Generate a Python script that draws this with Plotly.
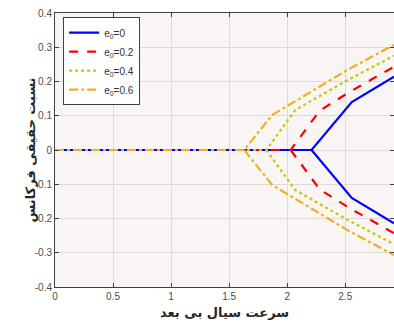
import plotly.graph_objects as go

# Data
names = ["e<sub>0</sub>=0", "e<sub>0</sub>=0.2", "e<sub>0</sub>=0.4", "e<sub>0</sub>=0.6"]
x_start = 0.0
branch_x = [
    [2.21, 2.556, 2.92],
    [2.03, 2.28, 2.55, 2.92],
    [1.82, 2.07, 2.52, 2.92],
    [1.63, 1.87, 2.52, 2.92],
]
branch_y = [
    [0.0, 0.140, 0.214],
    [0.0, 0.115, 0.172, 0.243],
    [0.0, 0.117, 0.204, 0.275],
    [0.0, 0.102, 0.234, 0.307],
]
colors = ["#0000ff", "#ff0000", "#c8c800", "#edb120"]
dashes = ["solid", "dash", "dot", "dashdot"]

x_ticks = [0, 0.5, 1, 1.5, 2, 2.5]
y_ticks = [-0.4, -0.3, -0.2, -0.1, 0, 0.1, 0.2, 0.3, 0.4]
x_title = "سرعت سیال بی بعد"
y_title = "نسبت حقیقی فرکانس"

fig = go.Figure()
for name, bx, by, c, d in zip(names, branch_x, branch_y, colors, dashes):
    xs = [x_start] + bx + [None] + bx
    ys = [0.0] + by + [None] + [-v for v in by]
    fig.add_trace(go.Scatter(x=xs, y=ys, mode="lines", name=name,
                             line=dict(color=c, width=2.2, dash=d)))

axis_common = dict(showline=True, linecolor="#404040", linewidth=1,
                   mirror="ticks", ticks="inside", ticklen=4, tickcolor="#404040",
                   showgrid=True, gridcolor="#dedada", gridwidth=1, zeroline=False,
                   tickfont=dict(family="Liberation Sans, Arial", size=10, color="#4d4d4d"))

fig.update_layout(
    width=394, height=324,
    margin=dict(l=55, r=0, t=13, b=37),
    paper_bgcolor="white", plot_bgcolor="#f9f5f5",
    xaxis=dict(range=[0, 2.92], tickvals=x_ticks, ticktext=[str(t) for t in x_ticks], **axis_common),
    yaxis=dict(range=[-0.4, 0.4], tickvals=y_ticks,
               ticktext=["-0.4", "-0.3", "-0.2", "-0.1", "0", "0.1", "0.2", "0.3", "0.4"],
               **axis_common),
    legend=dict(x=0.024, y=0.985, xanchor="left", yanchor="top",
                bgcolor="white", bordercolor="#404040", borderwidth=1,
                font=dict(family="Liberation Sans, Arial", size=10, color="#333333"),
                tracegroupgap=0, itemwidth=30),
    showlegend=True,
    annotations=[
        dict(text="<b>" + x_title + "</b>", xref="paper", yref="paper",
             x=0.5, y=-0.06, xanchor="center", yanchor="top", showarrow=False,
             font=dict(family="DejaVu Sans", size=13, color="#262626")),
        dict(text="<b>" + y_title + "</b>", xref="paper", yref="paper",
             x=-0.047, y=0.5, xanchor="right", yanchor="middle", showarrow=False,
             textangle=-90,
             font=dict(family="DejaVu Sans", size=13, color="#262626")),
    ],
)

fig.write_html("out.html")
